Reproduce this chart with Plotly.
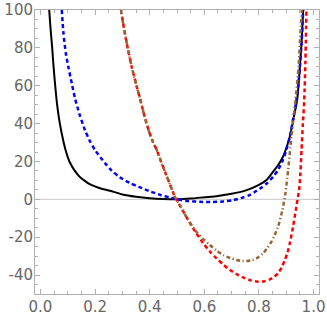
import plotly.graph_objects as go

black_x = [0.032, 0.037, 0.043, 0.048, 0.054, 0.061, 0.071, 0.085, 0.094, 0.106, 0.126, 0.143, 0.160, 0.180,
           0.215, 0.255, 0.300, 0.350, 0.400, 0.450, 0.500, 0.550, 0.600, 0.650, 0.700, 0.750, 0.800, 0.830,
           0.852, 0.870, 0.888, 0.900, 0.913, 0.928, 0.940, 0.950, 0.957, 0.962]
black_y = [100, 90, 80, 70, 60, 50, 40, 30, 25, 20, 15, 12, 10, 8,
           6, 4.5, 2.6, 1.4, 0.6, 0.15, 0.0, 0.4, 1.1, 1.8, 2.9, 4.6, 7.6, 10.5,
           14.6, 18.0, 22.5, 27, 33, 43.6, 52.5, 70, 85, 100]

blue_x = [0.078, 0.084, 0.093, 0.102, 0.115, 0.127, 0.145, 0.163, 0.180, 0.200, 0.237, 0.260, 0.291, 0.328,
          0.360, 0.401, 0.440, 0.474, 0.500, 0.540, 0.584, 0.630, 0.670, 0.706, 0.740, 0.767, 0.790, 0.803,
          0.830, 0.852, 0.870, 0.888, 0.900, 0.913, 0.931, 0.941, 0.950, 0.957, 0.962]
blue_y = [100, 88, 77, 70, 61, 53, 44, 36.6, 31, 26, 19, 15.3, 11.6, 8.6,
          6.6, 4.2, 2.3, 1.0, 0.0, -0.9, -1.3, -1.4, -1.1, -0.4, 0.9, 2.3, 4.4, 5.6,
          8.6, 12, 15.5, 20.8, 26, 33, 47.2, 56, 70, 85, 100]

red_x = [0.295, 0.305, 0.316, 0.334, 0.350, 0.365, 0.380, 0.395, 0.410, 0.426, 0.441, 0.456, 0.474, 0.492,
         0.510, 0.529, 0.559, 0.596, 0.620, 0.645, 0.670, 0.694, 0.720, 0.742, 0.770, 0.796, 0.820, 0.840,
         0.857, 0.870, 0.883, 0.895, 0.905, 0.913, 0.925, 0.937, 0.947, 0.952, 0.956, 0.961, 0.966, 0.970, 0.974]
red_y = [100, 91, 82.4, 70, 61, 53, 44.5, 37, 31, 26, 20.2, 14.6, 8.0, 1.4,
         -3.0, -8.0, -15.3, -23.2, -27.5, -31.2, -34.5, -37.3, -39.6, -41.2, -42.8, -43.5, -43.3, -42.3,
         -40.8, -39.1, -36, -32, -28, -23.2, -14.5, -3.9, 4.9, 14, 26, 40, 52.5, 72, 100]

brown_x = [0.295, 0.305, 0.316, 0.334, 0.350, 0.365, 0.380, 0.395, 0.410, 0.426, 0.441, 0.456, 0.474, 0.492,
           0.510, 0.529, 0.559, 0.572, 0.596, 0.620, 0.645, 0.669, 0.695, 0.718, 0.740, 0.755, 0.775, 0.791,
           0.815, 0.830, 0.846, 0.858, 0.870, 0.886, 0.897, 0.907, 0.919, 0.927, 0.934, 0.945, 0.952, 0.957]
brown_y = [100, 91, 82.4, 70, 61, 53, 44.5, 37, 31, 26, 20.2, 14.6, 8.0, 1.4,
           -3.0, -8.0, -14.8, -17.3, -21, -24.1, -27, -29.4, -31, -32, -32.6, -32.6, -32.1, -31.2,
           -28.5, -25.8, -22.4, -18.8, -14.5, -5.7, 3.2, 15.5, 33, 43, 52.5, 70, 87.7, 100]

x_ticks = [0.0, 0.2, 0.4, 0.6, 0.8, 1.0]
x_tick_text = ["0.0", "0.2", "0.4", "0.6", "0.8", "1.0"]
y_ticks = [-40, -20, 0, 20, 40, 60, 80, 100]
y_tick_text = ["-40", "-20", "0", "20", "40", "60", "80", "100"]

fig = go.Figure()
fig.add_trace(go.Scatter(x=black_x, y=black_y, mode="lines", hoverinfo="skip",
                         line=dict(color="black", width=2, shape="spline", smoothing=0.7)))
fig.add_trace(go.Scatter(x=blue_x, y=blue_y, mode="lines", hoverinfo="skip",
                         line=dict(color="#0000ff", width=2.5, dash="4px,3px", shape="spline", smoothing=0.7)))
fig.add_trace(go.Scatter(x=red_x, y=red_y, mode="lines", hoverinfo="skip",
                         line=dict(color="#ff0000", width=2.5, dash="4px,3px", shape="spline", smoothing=0.7)))
fig.add_trace(go.Scatter(x=brown_x, y=brown_y, mode="lines", hoverinfo="skip",
                         line=dict(color="#996633", width=2.5, dash="4px,2.5px,1.2px,2.5px", shape="spline", smoothing=0.7)))

axis_common = dict(
    showgrid=False, zeroline=False, showline=True, linecolor="#b0b0b0", linewidth=1,
    mirror="ticks", ticks="inside", ticklen=5, tickwidth=1, tickcolor="#b0b0b0",
    tickfont=dict(family="DejaVu Sans", size=15, color="#666666"),
    automargin=False,
)
fig.update_xaxes(range=[-0.02, 1.02], tickvals=x_ticks, ticktext=x_tick_text, ticklabelstandoff=-1,
                 minor=dict(dtick=0.05, tick0=0, ticks="inside", ticklen=3, tickcolor="#b0b0b0", showgrid=False),
                 **axis_common)
fig.update_yaxes(range=[-50, 100], tickvals=y_ticks, ticktext=y_tick_text, ticklabelstandoff=-2,
                 minor=dict(dtick=5, tick0=0, ticks="inside", ticklen=3, tickcolor="#b0b0b0", showgrid=False),
                 **axis_common)
fig.add_hline(y=0, line=dict(color="#c8c8c8", width=1), layer="below")

fig.update_layout(
    width=327, height=318, showlegend=False,
    margin=dict(l=35, r=8, t=10, b=24),
    plot_bgcolor="white", paper_bgcolor="white",
)
fig.write_html("out.html", config={"displayModeBar": False, "staticPlot": True},
               post_script="document.body.style.margin='0';document.body.style.padding='0';")
